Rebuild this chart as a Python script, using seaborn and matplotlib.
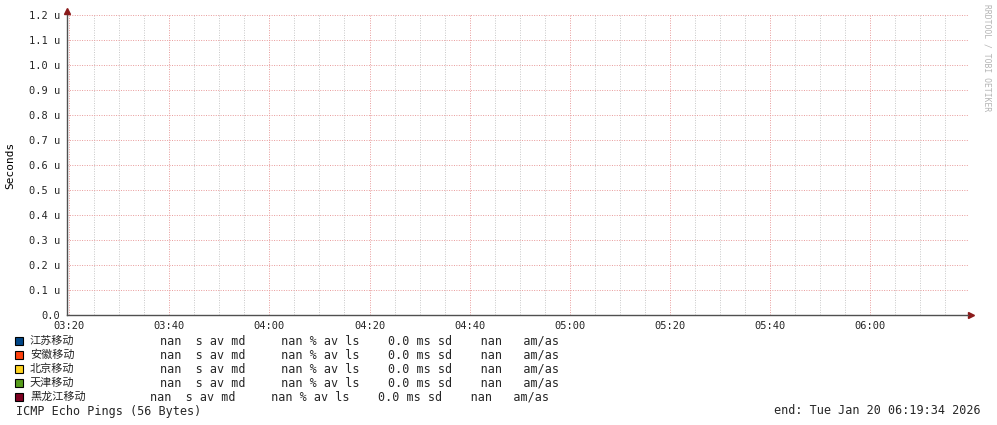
"""
Smokeping style ICMP echo ping graph (rrdtool look) rebuilt with seaborn.
"""

import numpy as np
import pandas as pd
import matplotlib
matplotlib.use("Agg")
import matplotlib.pyplot as plt
import matplotlib.dates as mdates
from matplotlib.patches import Rectangle
from matplotlib.ticker import MultipleLocator, FuncFormatter
import seaborn as sns


# ──────────────────────────────────────────────────────────────────────────────
# Data
# ──────────────────────────────────────────────────────────────────────────────

DAY = "2026-01-20"
START_TIME = "03:19:34"
END_TIME = "06:19:34"

hosts = ["江苏移动", "安徽移动", "北京移动", "天津移动", "黑龙江移动"]
host_colors = ["#004586", "#ff420e", "#ffd320", "#579d1c", "#7e0021"]

# sample times (every 20 min) and the median rtt per host: all missing
sample_times = ["03:20", "03:40", "04:00", "04:20", "04:40",
                "05:00", "05:20", "05:40", "06:00"]
rtt_jiangsu = [np.nan, np.nan, np.nan, np.nan, np.nan, np.nan, np.nan, np.nan, np.nan]
rtt_anhui = [np.nan, np.nan, np.nan, np.nan, np.nan, np.nan, np.nan, np.nan, np.nan]
rtt_beijing = [np.nan, np.nan, np.nan, np.nan, np.nan, np.nan, np.nan, np.nan, np.nan]
rtt_tianjin = [np.nan, np.nan, np.nan, np.nan, np.nan, np.nan, np.nan, np.nan, np.nan]
rtt_heilongjiang = [np.nan, np.nan, np.nan, np.nan, np.nan, np.nan, np.nan, np.nan, np.nan]

# legend statistics
avg_median = [np.nan, np.nan, np.nan, np.nan, np.nan]
avg_loss = [np.nan, np.nan, np.nan, np.nan, np.nan]
avg_sd_ms = [0.0, 0.0, 0.0, 0.0, 0.0]
am_as = [np.nan, np.nan, np.nan, np.nan, np.nan]

y_max = 1.2e-6
graph_title = "ICMP Echo Pings (56 Bytes)"
end_label = "end: Tue Jan 20 06:19:34 2026"
watermark = "RRDTOOL / TOBI OETIKER"


# ──────────────────────────────────────────────────────────────────────────────
# Helpers
# ──────────────────────────────────────────────────────────────────────────────

W, H = 997, 425
MONO = ["DejaVu Sans Mono", "Noto Sans CJK SC"]
CJK = ["Noto Sans CJK SC", "DejaVu Sans"]


def fx(px):
    return px / W


def fy(py):
    return 1 - py / H


def to_num(hhmm):
    return mdates.date2num(pd.Timestamp(f"{DAY} {hhmm}"))


def build_frame():
    series = [rtt_jiangsu, rtt_anhui, rtt_beijing, rtt_tianjin, rtt_heilongjiang]
    rows = []
    for host, vals in zip(hosts, series):
        for t, v in zip(sample_times, vals):
            rows.append({"host": host, "time": to_num(t), "rtt": v})
    return pd.DataFrame(rows)


def fmt_seconds(v, _pos):
    if abs(v) < 1e-12:
        return "0.0"
    return f"{v * 1e6:.1f} u"


# ──────────────────────────────────────────────────────────────────────────────
# Plot
# ──────────────────────────────────────────────────────────────────────────────

def main():
    sns.set_style("white")
    plt.rcParams["font.family"] = MONO

    df = build_frame()

    fig = plt.figure(figsize=(W / 100, H / 100), dpi=100)
    fig.patch.set_facecolor("white")
    ax = fig.add_axes([fx(67), fy(315), fx(968 - 67), (315 - 15) / H])

    sns.lineplot(data=df, x="time", y="rtt", hue="host", hue_order=hosts,
                 palette=host_colors, legend=False, ax=ax, lw=1)

    ax.set_xlim(to_num(START_TIME), to_num(END_TIME))
    ax.set_ylim(0, y_max)
    ax.set_xlabel("")
    ax.set_ylabel("")

    ax.xaxis.set_major_locator(mdates.MinuteLocator(byminute=[0, 20, 40]))
    ax.xaxis.set_minor_locator(mdates.MinuteLocator(byminute=range(0, 60, 5)))
    ax.xaxis.set_major_formatter(mdates.DateFormatter("%H:%M"))
    ax.yaxis.set_major_locator(MultipleLocator(1e-7))
    ax.yaxis.set_major_formatter(FuncFormatter(fmt_seconds))

    ax.grid(False)
    ax.grid(which="minor", axis="x", color="#c8c8c8", lw=0.7,
            linestyle=(0, (1, 1.5)), zorder=0)
    ax.grid(which="major", axis="both", color="#e89a9a", lw=0.7,
            linestyle=(0, (1, 1.5)), zorder=0)

    ax.tick_params(axis="both", which="major", labelsize=7.5, length=3,
                   width=0.8, color="#404040", pad=2, direction="out")
    ax.tick_params(axis="x", which="minor", length=0)
    ax.tick_params(axis="x", which="major", length=2, pad=2)

    for side in ["top", "right"]:
        ax.spines[side].set_visible(False)
    for side in ["left", "bottom"]:
        ax.spines[side].set_color("#505050")
        ax.spines[side].set_linewidth(1.0)

    # axis arrows
    ax.plot([1.0035], [0], marker=">", markersize=4, color="#8b1a1a",
            transform=ax.transAxes, clip_on=False)
    ax.plot([0], [1.012], marker="^", markersize=4, color="#8b1a1a",
            transform=ax.transAxes, clip_on=False)

    fig.text(fx(10), fy(165), "Seconds", rotation=90, ha="center",
             va="center", fontsize=8, family=MONO, color="#000000")
    fig.text(fx(987), fy(4), watermark, rotation=-90, ha="center", va="top",
             fontsize=5.8, family=MONO, color="#b4b4b4")

    # legend rows
    row_y = [341, 355, 369, 383, 397]
    stat_x = [160, 160, 160, 160, 150]
    for i, host in enumerate(hosts):
        y = row_y[i]
        fig.add_artist(Rectangle((fx(15), fy(y + 4)), 8 / W, 8 / H,
                                 transform=fig.transFigure,
                                 facecolor=host_colors[i],
                                 edgecolor="black", lw=0.8))
        fig.text(fx(30), fy(y), host, ha="left", va="center",
                 fontsize=8, family=CJK)
        stats = (f"{avg_median[i]:.1f}  s av md     "
                 f"{avg_loss[i]:.1f} % av ls    "
                 f"{avg_sd_ms[i]:.1f} ms sd    "
                 f"{am_as[i]:.1f}   am/as")
        fig.text(fx(stat_x[i]), fy(y), stats, ha="left", va="center",
                 fontsize=8.5, family=MONO)

    fig.text(fx(16), fy(411), graph_title, ha="left", va="center",
             fontsize=8.5, family=MONO)
    fig.text(fx(981), fy(411), end_label, ha="right", va="center",
             fontsize=8.5, family=MONO)

    fig.savefig("out.png", dpi=100, facecolor="white")
    plt.close(fig)


if __name__ == "__main__":
    main()
